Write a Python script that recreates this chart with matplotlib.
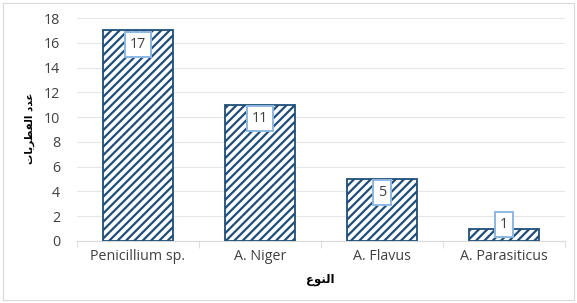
import matplotlib
matplotlib.use("Agg")
import matplotlib.pyplot as plt
from matplotlib.patches import Rectangle
import matplotlib as mpl

categories = ["Penicillium sp.", "A. Niger", "A. Flavus", "A. Parasiticus"]
values = [17, 11, 5, 1]
yticks = [0, 2, 4, 6, 8, 10, 12, 14, 16, 18]
# Arabic labels in presentation forms, visual order
xlabel = "\uFEC9\uFEEE\uFEE8\uFEDF\uFE8D"            # النوع
ylabel = "\uFE95\uFE8E\uFEF3\uFEAE\uFEC4\uFED4\uFEDF\uFE8D \uFEA9\uFEAA\uFECB"  # عدد الفطريات

mpl.rcParams['hatch.color'] = '#1F4E79'
mpl.rcParams['hatch.linewidth'] = 1.6

W, H = 577, 303
fig = plt.figure(figsize=(W/100, H/100), dpi=100)
ax = fig.add_axes([77/W, 1-241/H, (565-77)/W, (241-18)/H])

dark = '#1F4E79'
font = 'Open Sans'
fs = 10.3
x = range(len(categories))
bars = ax.bar(x, values, width=0.57, color='white', edgecolor=dark,
              hatch='////', linewidth=1.3, zorder=3)

ax.set_xlim(-0.5, len(categories)-0.5)
ax.set_ylim(0, 18)
ax.set_yticks(yticks)
ax.set_xticks(list(x))
ax.set_xticklabels(categories, fontsize=fs, color='#404040', family=font)
for lab in ax.get_yticklabels():
    lab.set_fontsize(fs)
    lab.set_color('#404040')
    lab.set_family(font)
ax.tick_params(axis='y', length=0, pad=12)
ax.tick_params(axis='x', length=0, pad=6)
ax.grid(axis='y', color='#E6E6E6', linewidth=0.8, zorder=0)
for s in ['top', 'right', 'left']:
    ax.spines[s].set_visible(False)
ax.spines['bottom'].set_color('#D9D9D9')
# category separator ticks
ax.set_xticks([i - 0.5 for i in range(len(categories)+1)], minor=True)
ax.tick_params(axis='x', which='minor', length=5, color='#D9D9D9', direction='out')

ppu = (241-18)/18
for i, v in enumerate(values):
    off = -10 if v*ppu > 30 else 3
    ax.annotate(str(v), (i, v), xytext=(0, off), textcoords='offset points',
                ha='center', va='center', fontsize=fs, color='#404040', family=font,
                bbox=dict(boxstyle='square,pad=0.35', fc='white', ec='#8DB8E2', lw=1.4),
                zorder=5)

fig.text(320/W, 1-279/H, xlabel, ha='center', va='center', fontsize=8.5,
         fontweight='bold', family='DejaVu Sans')
fig.text(30/W, 1-128/H, ylabel, ha='center', va='center', fontsize=7.5,
         fontweight='bold', rotation=90, family='DejaVu Sans')

fig.patches.append(Rectangle((3/W, 3/H), 1-6/W, 1-6/H, transform=fig.transFigure,
                             fill=False, ec='#D9D9D9', lw=0.8))
fig.savefig("out.png", dpi=100)
